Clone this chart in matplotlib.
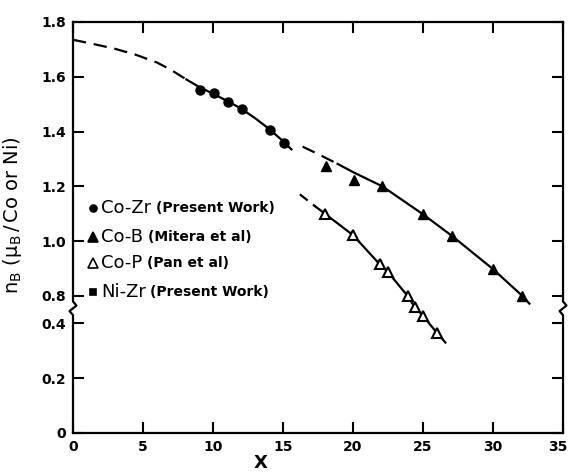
import matplotlib.pyplot as plt
import matplotlib.transforms as mtransforms
import numpy as np

# measured moments, n_B in mu_B per Co (or Ni) atom
co_zr_x = [9.1, 10.1, 11.1, 12.1, 14.1, 15.1]
co_zr_y = [1.553, 1.542, 1.509, 1.484, 1.404, 1.360]

co_b_x = [18.1, 20.1, 22.1, 25.0, 27.1, 30.0, 32.1]
co_b_y = [1.273, 1.225, 1.200, 1.098, 1.018, 0.898, 0.800]

co_p_x = [18.0, 20.0, 21.9, 22.5, 23.9, 24.4, 25.0, 26.0]
co_p_y = [1.100, 1.022, 0.916, 0.887, 0.800, 0.760, 0.727, 0.665]

ni_zr_x = []
ni_zr_y = []

# guide curves: extrapolated (dashed) and fitted (solid) parts
co_zr_ext_x = [0.0, 1.5, 3.0, 4.5, 6.0, 7.0, 8.1]
co_zr_ext_y = [1.735, 1.719, 1.702, 1.680, 1.652, 1.625, 1.590]
co_zr_fit_x = [8.1, 9.0, 10.0, 11.0, 12.0, 13.0, 14.0, 15.0, 15.6]
co_zr_fit_y = [1.590, 1.563, 1.538, 1.512, 1.484, 1.449, 1.410, 1.365, 1.335]

co_b_ext_x = [16.4, 17.5, 18.9]
co_b_ext_y = [1.345, 1.318, 1.282]
co_b_fit_x = [18.9, 20.0, 22.1, 25.0, 27.1, 30.0, 32.1, 32.6]
co_b_fit_y = [1.282, 1.252, 1.200, 1.098, 1.018, 0.898, 0.800, 0.772]

co_p_ext_x = [16.2, 17.3]
co_p_ext_y = [1.171, 1.127]
co_p_fit_x = [17.3, 18.0, 20.0, 21.9, 22.5, 23.9, 24.4, 25.0, 26.0, 26.6]
co_p_fit_y = [1.127, 1.100, 1.022, 0.916, 0.887, 0.800, 0.760, 0.727, 0.665, 0.630]

y_ticks = [0.0, 0.2, 0.4, 0.8, 1.0, 1.2, 1.4, 1.6, 1.8]
x_ticks = [0, 5, 10, 15, 20, 25, 30, 35]

# the axis is broken between 0.4 and 0.8; upper part is shifted down by 0.3
SHIFT = 0.3


def to_axis(y):
    y = np.asarray(y, dtype=float)
    return np.where(y >= 0.6, y - SHIFT, y)


plt.rcParams['font.family'] = 'DejaVu Sans'
fig = plt.figure(figsize=(5.69, 4.73), dpi=100)
ax = fig.add_axes([0.1283, 0.0846, 0.8612, 0.869])

lw = 1.6
dash = (0, (6, 3.5))
ax.plot(co_zr_ext_x, to_axis(co_zr_ext_y), color='black', lw=lw, ls=dash)
ax.plot(co_zr_fit_x, to_axis(co_zr_fit_y), color='black', lw=lw)
ax.plot(co_b_ext_x, to_axis(co_b_ext_y), color='black', lw=lw, ls=dash)
ax.plot(co_b_fit_x, to_axis(co_b_fit_y), color='black', lw=lw)
ax.plot(co_p_ext_x, to_axis(co_p_ext_y), color='black', lw=lw, ls=(0, (4.5, 3)))
ax.plot(co_p_fit_x, to_axis(co_p_fit_y), color='black', lw=lw)

ax.plot(co_zr_x, to_axis(co_zr_y), 'o', color='black', ms=6.5)
ax.plot(co_b_x, to_axis(co_b_y), '^', color='black', ms=7)
ax.plot(co_p_x, to_axis(co_p_y), '^', mfc='white', mec='black', mew=1.5, ms=7)
ax.plot(ni_zr_x, ni_zr_y, 's', color='black', ms=5)

ax.set_xlim(0, 35)
ax.set_ylim(0, 1.8 - SHIFT)
ax.set_xticks(x_ticks)
ax.set_xticklabels([str(t) for t in x_ticks])
ax.set_yticks(to_axis(y_ticks))
ax.set_yticklabels(['0' if t == 0 else f'{t:.1f}' for t in y_ticks])
ax.tick_params(direction='in', length=8, width=1.5, top=True, right=True,
               labelsize=10, pad=5)
for lab in ax.get_xticklabels() + ax.get_yticklabels():
    lab.set_fontweight('bold')

# keep the last x label inside the figure
last = ax.get_xticklabels()[-1]
last.set_transform(last.get_transform() +
                   mtransforms.ScaledTranslation(-4 / 72, 0, fig.dpi_scale_trans))

for side in ['top', 'bottom']:
    ax.spines[side].set_linewidth(1.6)
ax.spines['left'].set_visible(False)
ax.spines['right'].set_visible(False)

# left and right frame lines with the break squiggle
bx = [0, 0, -0.007, 0.007, 0, 0]
by = [0, 0.43, 0.445, 0.465, 0.48, 1.5]
tr = ax.get_yaxis_transform()
ax.plot(bx, by, color='black', lw=1.6, transform=tr, clip_on=False)
ax.plot([1 + v for v in bx], by, color='black', lw=1.6, transform=tr, clip_on=False)

ax.set_xlabel('X', fontsize=13, fontweight='bold')
ax.xaxis.set_label_coords(0.383, -0.05)
ax.set_ylabel(r'$\mathregular{n_B\ (\mu_B\,/\,Co\ or\ Ni)}$', fontsize=14)
ax.yaxis.set_label_coords(-0.1, 0.53)

# legend drawn as text rows
rows = [('o', 'black', 5, 'Co-Zr', '(Present Work)'),
        ('^', 'black', 6.5, 'Co-B', '(Mitera et al)'),
        ('^', 'white', 6.5, 'Co-P', '(Pan et al)'),
        ('s', 'black', 4.5, 'Ni-Zr', '(Present Work)')]
row_y = [0.547, 0.477, 0.414, 0.343]
for (mk, fc, ms, name, src), yy in zip(rows, row_y):
    ax.plot([0.041], [yy], mk, mfc=fc, mec='black', mew=1.2, ms=ms,
            transform=ax.transAxes, clip_on=False)
    t = ax.text(0.058, yy, name, fontsize=13, va='center', ha='left',
                transform=ax.transAxes)
    ax.annotate(src, xy=(1, 0.5), xycoords=t, xytext=(3, 0),
                textcoords='offset points', fontsize=10, fontweight='bold',
                va='center', ha='left')

fig.savefig('out.png', dpi=100)
